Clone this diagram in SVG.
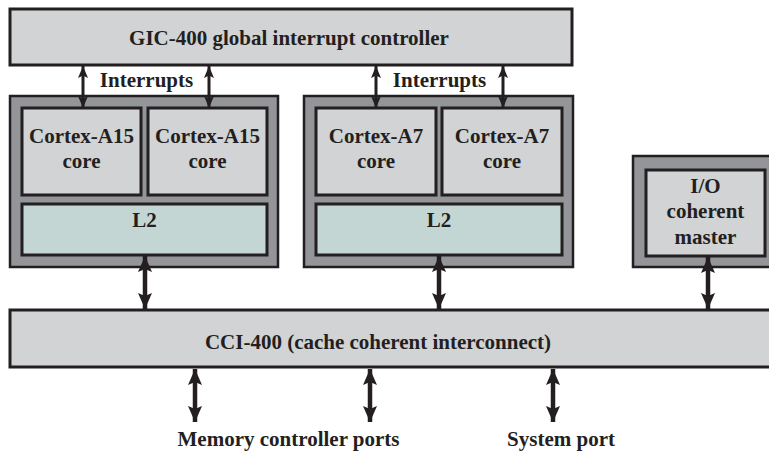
<svg xmlns="http://www.w3.org/2000/svg" width="769" height="452" viewBox="0 0 769 452">
<style>
.light{fill:#d1d3d4;stroke:#231f20;stroke-width:3}
.dark{fill:#939598;stroke:#231f20;stroke-width:2.5}
.l2{fill:#c4d6d3;stroke:#231f20;stroke-width:3}
text{font-family:"Liberation Serif","Times New Roman",serif;font-weight:bold;font-size:21px;fill:#231f20;text-anchor:middle}
.conn line{stroke:#231f20;stroke-width:4.5}
.conn .small{stroke-width:3;marker-start:url(#hs);marker-end:url(#hs)}
.conn .big{marker-start:url(#hb);marker-end:url(#hb)}
</style>
<defs>
<marker id="hs" markerUnits="userSpaceOnUse" markerWidth="12" markerHeight="10" refX="12" refY="5" orient="auto-start-reverse"><path d="M0,0 L12,5 L0,10 L2.5,5 z" fill="#231f20"/></marker>
<marker id="hb" markerUnits="userSpaceOnUse" markerWidth="16" markerHeight="14" refX="16" refY="7" orient="auto-start-reverse"><path d="M0,0 L16,7 L0,14 L3,7 z" fill="#231f20"/></marker>
</defs>
<rect width="769" height="452" fill="#ffffff"/>
<g id="gic">
<rect class="light" x="10" y="9" width="562" height="56"/>
<text x="289" y="45">GIC-400 global interrupt controller</text>
</g>
<g id="cluster-a15">
<rect class="dark" x="10" y="96" width="268" height="171"/>
</g>
<g id="a15-core-1">
<rect class="light" x="22" y="108" width="119" height="87"/>
<text x="81.5" y="143">Cortex-A15</text>
<text x="81.5" y="168">core</text>
</g>
<g id="a15-core-2">
<rect class="light" x="148" y="108" width="119" height="87"/>
<text x="207.5" y="143">Cortex-A15</text>
<text x="207.5" y="168">core</text>
</g>
<g id="a15-l2">
<rect class="l2" x="22" y="204" width="245" height="51"/>
<text x="144.5" y="227">L2</text>
</g>
<g id="cluster-a7">
<rect class="dark" x="304" y="96" width="269" height="171"/>
</g>
<g id="a7-core-1">
<rect class="light" x="316" y="108" width="120" height="87"/>
<text x="376" y="143">Cortex-A7</text>
<text x="376" y="168">core</text>
</g>
<g id="a7-core-2">
<rect class="light" x="442" y="108" width="120" height="87"/>
<text x="502" y="143">Cortex-A7</text>
<text x="502" y="168">core</text>
</g>
<g id="a7-l2">
<rect class="l2" x="316" y="204" width="246" height="51"/>
<text x="439" y="227">L2</text>
</g>
<g id="io-outer">
<rect class="dark" x="633" y="156" width="145" height="111"/>
</g>
<g id="io-master">
<rect class="light" x="646" y="170" width="119" height="86"/>
<text x="705.5" y="193">I/O</text>
<text x="705.5" y="218">coherent</text>
<text x="705.5" y="244">master</text>
</g>
<g id="cci">
<rect class="light" x="10" y="310" width="770" height="57"/>
<text x="378" y="349">CCI-400 (cache coherent interconnect)</text>
</g>
<g id="labels">
<text x="146.5" y="87">Interrupts</text>
<text x="439.5" y="87">Interrupts</text>
<text x="288.5" y="446">Memory controller ports</text>
<text x="561" y="446">System port</text>
</g>
<g id="connectors" class="conn">
<line class="small" x1="83" y1="66" x2="83" y2="108"/>
<line class="small" x1="209" y1="66" x2="209" y2="108"/>
<line class="small" x1="376" y1="66" x2="376" y2="108"/>
<line class="small" x1="503" y1="66" x2="503" y2="108"/>
<line class="big" x1="145" y1="256" x2="145" y2="309"/>
<line class="big" x1="439" y1="256" x2="439" y2="309"/>
<line class="big" x1="708" y1="257" x2="708" y2="309"/>
<line class="big" x1="195" y1="369" x2="195" y2="422"/>
<line class="big" x1="370" y1="369" x2="370" y2="422"/>
<line class="big" x1="553" y1="369" x2="553" y2="422"/>
</g>
</svg>
